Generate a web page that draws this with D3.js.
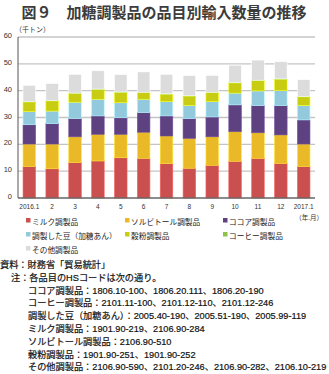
<!DOCTYPE html>
<html>
<head>
<meta charset="utf-8">
<script src="https://cdn.jsdelivr.net/npm/d3@7"></script>
<style>
  body { margin: 0; background: #fff; }
  svg { display: block; }
  text { font-family: "Liberation Sans", "Noto Sans CJK JP", sans-serif; }
</style>
</head>
<body>
<svg id="chart" width="329" height="374"></svg>
<script>
// monthly imports by item (thousand tonnes)
var months = ["2016.1", "2", "3", "4", "5", "6", "7", "8", "9", "10", "11", "12", "2017.1"];
var milk     = [11.7, 10.9, 13.2, 13.8, 15.0, 14.8, 12.8, 11.1, 12.2, 13.7, 14.8, 12.9, 11.7];
var sorbitol = [8.4, 9.2, 9.6, 9.9, 8.7, 9.7, 10.3, 11.1, 10.6, 11.0, 9.5, 10.6, 8.4];
var cocoa    = [7.2, 7.6, 6.8, 6.9, 6.2, 7.3, 7.5, 7.4, 7.4, 10.0, 10.1, 10.9, 9.0];
var beans    = [4.9, 4.7, 6.1, 6.2, 5.6, 5.0, 5.3, 4.9, 5.7, 4.4, 5.5, 5.6, 5.4];
var flour    = [3.6, 3.8, 3.3, 3.7, 3.9, 2.5, 2.8, 3.5, 3.4, 3.8, 3.9, 4.3, 3.2];
var coffee   = [0.1, 0.1, 0.1, 0.1, 0.1, 0.1, 0.1, 0.1, 0.1, 0.1, 0.1, 0.1, 0.1];
var other    = [6.1, 6.4, 7.0, 6.8, 6.5, 7.6, 7.3, 7.5, 6.3, 6.5, 7.5, 6.4, 6.3];
var yTicks = [0, 10, 20, 30, 40, 50, 60];

// series in stacking order, bottom to top
var series = [
  {key: "milk",     name: "ミルク調製品",         values: milk,     color: "#c9504f"},
  {key: "sorbitol", name: "ソルビトール調製品",   values: sorbitol, color: "#e9b927"},
  {key: "cocoa",    name: "ココア調製品",         values: cocoa,    color: "#5e4180"},
  {key: "beans",    name: "調製した豆（加糖あん）", values: beans,  color: "#93c9dd"},
  {key: "flour",    name: "穀粉調製品",           values: flour,    color: "#c8cc12"},
  {key: "coffee",   name: "コーヒー調製品",       values: coffee,   color: "#8fc24b"},
  {key: "other",    name: "その他調製品",         values: other,    color: "#dcdcdc"}
];

// legend placement: three columns, items flow row by row
var legendOrder = ["milk", "sorbitol", "cocoa", "beans", "flour", "coffee", "other"];

var notes = [
  {x: 0,  text: "資料：財務省「貿易統計」"},
  {x: 11, text: "注：各品目のHSコードは次の通り。"},
  {x: 28, text: "ココア調製品：1806.10-100、1806.20.111、1806.20-190"},
  {x: 28, text: "コーヒー調製品：2101.11-100、2101.12-110、2101.12-246"},
  {x: 28, text: "調製した豆（加糖あん）：2005.40-190、2005.51-190、2005.99-119"},
  {x: 28, text: "ミルク調製品：1901.90-219、2106.90-284"},
  {x: 28, text: "ソルビトール調製品：2106.90-510"},
  {x: 28, text: "穀粉調製品：1901.90-251、1901.90-252"},
  {x: 28, text: "その他調製品：2106.90-590、2101.20-246、2106.90-282、2106.10-219"}
];

var svg = d3.select("#chart");

var rows = months.map(function(m, i) {
  var r = {month: m};
  series.forEach(function(s) { r[s.key] = s.values[i]; });
  return r;
});

var stacked = d3.stack().keys(series.map(function(s) { return s.key; }))(rows);

var x = d3.scaleBand()
    .domain(months)
    .range([18, 315])
    .paddingInner(0.45)
    .paddingOuter(0.22);

var y = d3.scaleLinear()
    .domain([0, 60])
    .range([198, 37]);

// title
svg.append("text")
    .attr("x", 164)
    .attr("y", 18)
    .attr("text-anchor", "middle")
    .style("font-size", "15px")
    .style("font-weight", "bold")
    .style("fill", "#3c3c3c")
    .text("図９　加糖調製品の品目別輸入数量の推移");

// unit
svg.append("text")
    .attr("x", 15)
    .attr("y", 32)
    .style("font-size", "7px")
    .style("fill", "#333")
    .text("（千トン）");

// gridlines
svg.append("g")
    .selectAll("line")
    .data(yTicks.filter(function(d) { return d > 0; }))
    .enter().append("line")
    .attr("x1", 18)
    .attr("x2", 315)
    .attr("y1", function(d) { return y(d); })
    .attr("y2", function(d) { return y(d); })
    .attr("stroke", "#c4c4c4")
    .attr("stroke-width", 1.3);

// y tick labels
svg.append("g")
    .selectAll("text")
    .data(yTicks)
    .enter().append("text")
    .attr("x", 12)
    .attr("y", function(d) { return y(d) + 1; })
    .attr("text-anchor", "end")
    .style("font-size", "7.5px")
    .style("fill", "#333")
    .text(function(d) { return d; });

// stacked bars
svg.append("g")
    .selectAll("g")
    .data(stacked)
    .enter().append("g")
    .attr("fill", function(d, i) { return series[i].color; })
    .attr("stroke", function(d, i) { return d3.color(series[i].color).brighter(0.6); })
    .attr("stroke-width", 0.6)
    .selectAll("rect")
    .data(function(d) { return d; })
    .enter().append("rect")
    .attr("x", function(d) { return x(d.data.month); })
    .attr("width", x.bandwidth())
    .attr("y", function(d) { return y(d[1]); })
    .attr("height", function(d) { return y(d[0]) - y(d[1]); });

// axes lines
svg.append("line")
    .attr("x1", 18).attr("x2", 18)
    .attr("y1", 37).attr("y2", 198)
    .attr("stroke", "#555")
    .attr("stroke-width", 1);
svg.append("line")
    .attr("x1", 18).attr("x2", 315)
    .attr("y1", 198).attr("y2", 198)
    .attr("stroke", "#666")
    .attr("stroke-width", 1.3);

// x labels
svg.append("g")
    .selectAll("text")
    .data(months)
    .enter().append("text")
    .attr("x", function(d) { return x(d) + x.bandwidth() / 2; })
    .attr("y", 209)
    .attr("text-anchor", "middle")
    .style("font-size", "6.5px")
    .style("fill", "#333")
    .text(function(d) { return d; });

svg.append("text")
    .attr("x", 323)
    .attr("y", 220)
    .attr("text-anchor", "end")
    .style("font-size", "6.5px")
    .style("fill", "#333")
    .text("（年.月）");

// legend
var legendCols = [26, 125, 223];
var legend = svg.append("g")
    .selectAll("g")
    .data(legendOrder.map(function(k) { return series.find(function(s) { return s.key === k; }); }))
    .enter().append("g")
    .attr("transform", function(d, i) {
      return "translate(" + legendCols[i % 3] + "," + (222 + Math.floor(i / 3) * 14) + ")";
    });

legend.append("rect")
    .attr("x", 0)
    .attr("y", -4)
    .attr("width", 4.5)
    .attr("height", 4.5)
    .attr("fill", function(d) { return d.color; });

legend.append("text")
    .attr("x", 6)
    .attr("y", 2.5)
    .style("font-size", "7.7px")
    .style("fill", "#222")
    .text(function(d) { return d.name; });

// source and notes
svg.append("g")
    .selectAll("text")
    .data(notes)
    .enter().append("text")
    .attr("x", function(d) { return d.x; })
    .attr("y", function(d, i) { return 268 + i * 12.8; })
    .style("font-size", "9.2px")
    .style("fill", "#111")
    .style("stroke", "#111")
    .style("stroke-width", 0.2)
    .text(function(d) { return d.text; });
</script>
</body>
</html>
